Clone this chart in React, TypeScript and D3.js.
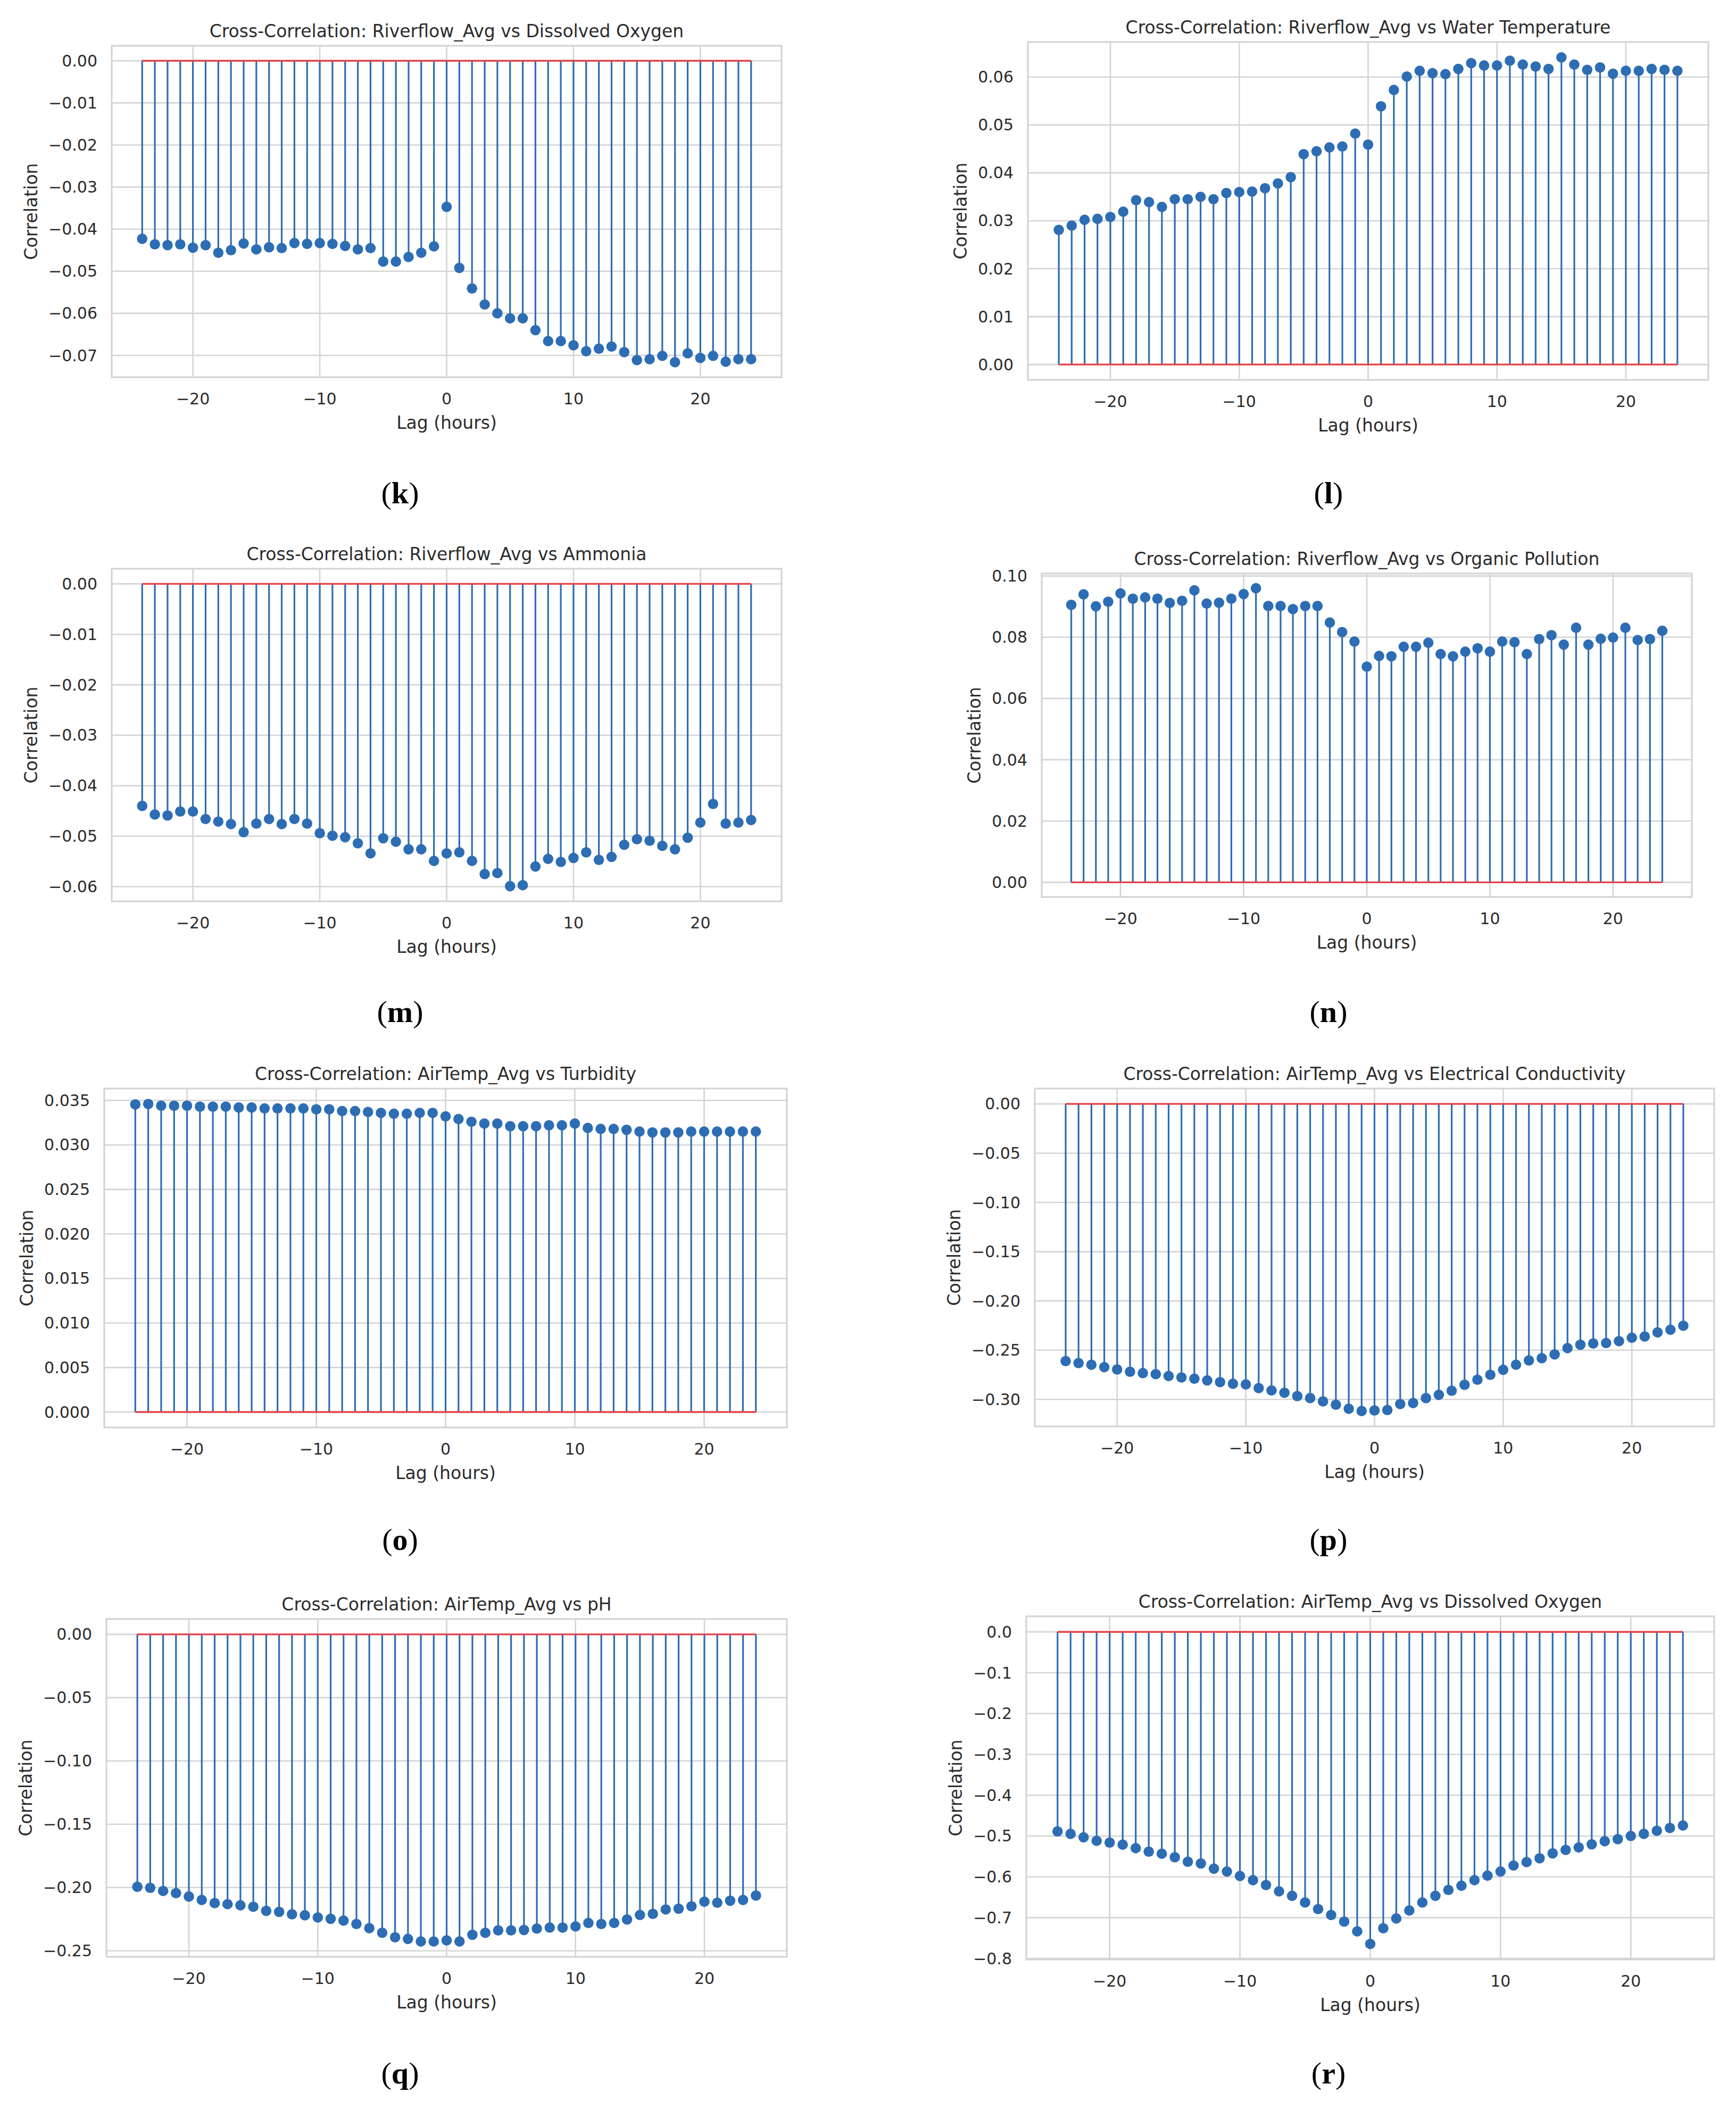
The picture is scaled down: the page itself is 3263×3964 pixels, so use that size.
import React from "react";
import * as d3 from "d3";

// lag axis (hours)
const lags = [
  -24, -23, -22, -21, -20, -19, -18, -17, -16, -15, -14, -13, -12, -11, -10, -9, -8, -7, -6, -5, -4, -3, -2, -1,
  0, 1, 2, 3, 4, 5, 6, 7, 8, 9, 10, 11, 12, 13, 14, 15, 16, 17, 18, 19, 20, 21, 22, 23, 24,
];
const xTicks = [-20, -10, 0, 10, 20];

// correlation values, lag -24 .. 24
const riverflowDO = [
  -0.0423, -0.0436, -0.0438, -0.0436, -0.0444, -0.0438, -0.0456, -0.045, -0.0434, -0.0448, -0.0443, -0.0445,
  -0.0433, -0.0435, -0.0433, -0.0435, -0.044, -0.0448, -0.0445, -0.0477, -0.0477, -0.0466, -0.0456, -0.0441,
  -0.0347, -0.0492, -0.0541, -0.0579, -0.06, -0.0612, -0.0612, -0.064, -0.0666, -0.0666, -0.0676, -0.069,
  -0.0684, -0.0679, -0.0692, -0.0711, -0.0709, -0.0701, -0.0716, -0.0695, -0.0706, -0.0701, -0.0715, -0.0709,
  -0.0709,
];
const riverflowWaterTemp = [
  0.0281, 0.029, 0.0302, 0.0304, 0.0308, 0.0319, 0.0343, 0.0339, 0.0329, 0.0345, 0.0345, 0.035, 0.0345, 0.0358,
  0.036, 0.0361, 0.0368, 0.0378, 0.0391, 0.0439, 0.0445, 0.0453, 0.0455, 0.0482, 0.0459, 0.0539, 0.0573, 0.0601,
  0.0613, 0.0608, 0.0606, 0.0617, 0.0629, 0.0624, 0.0624, 0.0634, 0.0626, 0.0622, 0.0617, 0.0641, 0.0626,
  0.0615, 0.062, 0.0607, 0.0613, 0.0613, 0.0617, 0.0615, 0.0613,
];
const riverflowAmmonia = [
  -0.044, -0.0457, -0.0459, -0.0451, -0.0451, -0.0466, -0.0471, -0.0476, -0.0492, -0.0475, -0.0466, -0.0476,
  -0.0466, -0.0475, -0.0494, -0.0499, -0.0502, -0.0514, -0.0534, -0.0504, -0.0511, -0.0526, -0.0526, -0.0549,
  -0.0534, -0.0532, -0.0549, -0.0575, -0.0573, -0.0599, -0.0597, -0.056, -0.0545, -0.0551, -0.0543, -0.0532,
  -0.0547, -0.0541, -0.0517, -0.0506, -0.0509, -0.0519, -0.0526, -0.0503, -0.0473, -0.0436, -0.0475, -0.0473,
  -0.0468,
];
const riverflowOrganic = [
  0.0906, 0.094, 0.0901, 0.0916, 0.0943, 0.0926, 0.093, 0.0926, 0.0912, 0.0919, 0.0953, 0.091, 0.0913, 0.0926,
  0.0941, 0.096, 0.0902, 0.0902, 0.0892, 0.0902, 0.0902, 0.0848, 0.0817, 0.0786, 0.0704, 0.0739, 0.0738, 0.0769,
  0.0769, 0.0782, 0.0745, 0.0738, 0.0753, 0.0764, 0.0753, 0.0786, 0.0784, 0.0745, 0.0794, 0.0807, 0.0776,
  0.0831, 0.0776, 0.0795, 0.0799, 0.0831, 0.0791, 0.0794, 0.0821,
];
const airTempTurbidity = [
  0.03455, 0.0346, 0.0344, 0.0344, 0.0344, 0.0343, 0.0343, 0.0343, 0.0342, 0.0342, 0.0341, 0.0341, 0.0341,
  0.0341, 0.034, 0.034, 0.0338, 0.0338, 0.0337, 0.0336, 0.0335, 0.0335, 0.0336, 0.0336, 0.0332, 0.0329, 0.0326,
  0.0324, 0.0324, 0.0321, 0.0321, 0.0321, 0.0322, 0.0322, 0.0324, 0.0319, 0.0318, 0.0318, 0.0317, 0.0315,
  0.0314, 0.0314, 0.0314, 0.0315, 0.0315, 0.0315, 0.0315, 0.0315, 0.0315,
];
const airTempEC = [
  -0.2611, -0.2631, -0.2648, -0.2672, -0.2696, -0.2719, -0.2733, -0.2743, -0.2763, -0.2777, -0.279, -0.2807,
  -0.2824, -0.2841, -0.2848, -0.2885, -0.2909, -0.2932, -0.2966, -0.2986, -0.302, -0.3054, -0.3095, -0.3118,
  -0.3112, -0.3108, -0.3047, -0.3037, -0.2986, -0.2953, -0.2912, -0.2851, -0.28, -0.275, -0.2699, -0.2648,
  -0.2604, -0.2581, -0.2543, -0.2479, -0.2445, -0.2432, -0.2428, -0.2408, -0.2374, -0.2361, -0.232, -0.2293,
  -0.2252,
];
const airTempPH = [
  -0.1994, -0.2002, -0.2027, -0.2044, -0.2071, -0.2098, -0.2123, -0.2131, -0.214, -0.2151, -0.2184, -0.2192,
  -0.2211, -0.2219, -0.2236, -0.2247, -0.2261, -0.2288, -0.2321, -0.2357, -0.2393, -0.2406, -0.2426, -0.2426,
  -0.2417, -0.2426, -0.2373, -0.2357, -0.2338, -0.2338, -0.2335, -0.2324, -0.2316, -0.2316, -0.2307, -0.228,
  -0.2288, -0.228, -0.2252, -0.2217, -0.2208, -0.2173, -0.2167, -0.2148, -0.2112, -0.212, -0.2104, -0.2098,
  -0.2063,
];
const airTempDO = [
  -0.4887, -0.4947, -0.5032, -0.5117, -0.516, -0.5211, -0.5296, -0.5382, -0.5433, -0.5518, -0.5629, -0.5672,
  -0.58, -0.5868, -0.5979, -0.6081, -0.62, -0.6354, -0.6465, -0.6627, -0.6789, -0.6934, -0.7096, -0.7335,
  -0.7642, -0.7258, -0.7019, -0.6823, -0.6627, -0.6465, -0.632, -0.6217, -0.6081, -0.597, -0.5868, -0.5723,
  -0.5638, -0.5544, -0.5424, -0.5339, -0.5279, -0.5203, -0.5126, -0.5075, -0.4998, -0.4947, -0.487, -0.4802,
  -0.4742,
];

// y tick values per chart
const ticksK = [0, -0.01, -0.02, -0.03, -0.04, -0.05, -0.06, -0.07];
const ticksL = [0, 0.01, 0.02, 0.03, 0.04, 0.05, 0.06];
const ticksM = [0, -0.01, -0.02, -0.03, -0.04, -0.05, -0.06];
const ticksN = [0, 0.02, 0.04, 0.06, 0.08, 0.1];
const ticksO = [0, 0.005, 0.01, 0.015, 0.02, 0.025, 0.03, 0.035];
const ticksP = [0, -0.05, -0.1, -0.15, -0.2, -0.25, -0.3];
const ticksQ = [0, -0.05, -0.1, -0.15, -0.2, -0.25];
const ticksR = [0, -0.1, -0.2, -0.3, -0.4, -0.5, -0.6, -0.7, -0.8];

const titles = [
  "Cross-Correlation: Riverflow_Avg vs Dissolved Oxygen",
  "Cross-Correlation: Riverflow_Avg vs Water Temperature",
  "Cross-Correlation: Riverflow_Avg vs Ammonia",
  "Cross-Correlation: Riverflow_Avg vs Organic Pollution",
  "Cross-Correlation: AirTemp_Avg vs Turbidity",
  "Cross-Correlation: AirTemp_Avg vs Electrical Conductivity",
  "Cross-Correlation: AirTemp_Avg vs pH",
  "Cross-Correlation: AirTemp_Avg vs Dissolved Oxygen",
];
const letters = ["k", "l", "m", "n", "o", "p", "q", "r"];

const W = 3263;
const H = 3964;
const FONT = "'DejaVu Sans', sans-serif";
const TEXT = "#2b2b2b";
const GRID = "#d4d4d4";
const BLUE = "#2d6db4";
const RED = "#e2434b";
const TICK_SIZE = 30;
const LABEL_SIZE = 33;

const panels = [
  { values: riverflowDO, ticks: ticksK, digits: 2, box: [210, 1469, 86, 709], cap: [752, 931] },
  { values: riverflowWaterTemp, ticks: ticksL, digits: 2, box: [1932, 3211, 79, 714], cap: [2497, 931] },
  { values: riverflowAmmonia, ticks: ticksM, digits: 2, box: [210, 1469, 1069, 1694], cap: [752, 1906] },
  { values: riverflowOrganic, ticks: ticksN, digits: 2, box: [1958, 3180, 1078, 1686], cap: [2497, 1906] },
  { values: airTempTurbidity, ticks: ticksO, digits: 3, box: [196, 1479, 2046, 2683], cap: [752, 2898] },
  { values: airTempEC, ticks: ticksP, digits: 2, box: [1945, 3222, 2046, 2681], cap: [2497, 2898] },
  { values: airTempPH, ticks: ticksQ, digits: 2, box: [200, 1479, 3043, 3678], cap: [752, 3901] },
  { values: airTempDO, ticks: ticksR, digits: 1, box: [1929, 3222, 3038, 3683], cap: [2497, 3901] },
];

// rough DejaVu Sans advance widths for tick strings
const labelWidth = (s: string, size: number) =>
  d3.sum(s.split(""), (c) => (c === "." ? 0.318 : c === "\u2212" ? 0.838 : 0.636)) * size;

function Panel({ p, title, letter }: { p: (typeof panels)[number]; title: string; letter: string }) {
  const [x0, x1, y0, y1] = p.box;
  const [lagMin, lagMax] = d3.extent(lags) as [number, number];
  const xPad = (lagMax - lagMin) * 0.05;
  const x = d3.scaleLinear().domain([lagMin - xPad, lagMax + xPad]).range([x0, x1]);

  const lo = Math.min(0, d3.min(p.values)!);
  const hi = Math.max(0, d3.max(p.values)!);
  const yPad = (hi - lo) * 0.05;
  const y = d3.scaleLinear().domain([lo - yPad, hi + yPad]).range([y1, y0]);

  const fmt = d3.format(`.${p.digits}f`);
  const xfmt = d3.format("d");
  const tickLabels = p.ticks.map((t) => fmt(t));
  const maxW = d3.max(tickLabels, (s) => labelWidth(s, TICK_SIZE))!;
  const yLabelX = x0 - 27 - maxW - 33;
  const cx = (x0 + x1) / 2;
  const cy = (y0 + y1) / 2;

  return (
    <g>
      <rect x={x0} y={y0} width={x1 - x0} height={y1 - y0} fill="#fff" />
      {/* grid */}
      {p.ticks.map((t, i) => (
        <line key={"gy" + i} x1={x0} x2={x1} y1={y(t)} y2={y(t)} stroke={GRID} strokeWidth={2.6} />
      ))}
      {xTicks.map((t) => (
        <line key={"gx" + t} x1={x(t)} x2={x(t)} y1={y0} y2={y1} stroke={GRID} strokeWidth={2.6} />
      ))}
      <rect x={x0} y={y0} width={x1 - x0} height={y1 - y0} fill="none" stroke={GRID} strokeWidth={3.2} />

      {/* stems */}
      {p.values.map((v, i) => (
        <line key={"s" + i} x1={x(lags[i])} x2={x(lags[i])} y1={y(0)} y2={y(v)} stroke={BLUE} strokeWidth={3.2} />
      ))}
      {p.values.map((v, i) => (
        <circle key={"m" + i} cx={x(lags[i])} cy={y(v)} r={9.8} fill={BLUE} />
      ))}
      <line x1={x(lagMin)} x2={x(lagMax)} y1={y(0)} y2={y(0)} stroke={RED} strokeWidth={3.4} />

      {/* y ticks */}
      {p.ticks.map((t, i) => (
        <text
          key={"ty" + i}
          x={x0 - 27}
          y={y(t)}
          textAnchor="end"
          dominantBaseline="central"
          fontFamily={FONT}
          fontSize={TICK_SIZE}
          fill={TEXT}
        >
          {tickLabels[i]}
        </text>
      ))}
      {/* x ticks */}
      {xTicks.map((t) => (
        <text key={"tx" + t} x={x(t)} y={y1 + 51} textAnchor="middle" fontFamily={FONT} fontSize={TICK_SIZE} fill={TEXT}>
          {xfmt(t)}
        </text>
      ))}

      <text x={cx} y={y0 - 16} textAnchor="middle" fontFamily={FONT} fontSize={LABEL_SIZE} fill={TEXT}>
        {title}
      </text>
      <text x={cx} y={y1 + 97} textAnchor="middle" fontFamily={FONT} fontSize={LABEL_SIZE} fill={TEXT}>
        Lag (hours)
      </text>
      <text
        transform={`translate(${yLabelX},${cy}) rotate(-90)`}
        textAnchor="middle"
        dominantBaseline="central"
        fontFamily={FONT}
        fontSize={LABEL_SIZE}
        fill={TEXT}
      >
        Correlation
      </text>

      <text
        x={p.cap[0]}
        y={p.cap[1] + 15}
        textAnchor="middle"
        fontFamily="'Liberation Serif', 'Times New Roman', serif"
        fontSize={58}
        fill="#000"
      >
        (<tspan fontWeight="bold">{letter}</tspan>)
      </text>
    </g>
  );
}

export default function App() {
  return (
    <svg
      width={W}
      height={H}
      viewBox={`0 0 ${W} ${H}`}
      style={{ position: "absolute", left: 0, top: 0, background: "#fff" }}
    >
      <rect width={W} height={H} fill="#fff" />
      {panels.map((p, i) => (
        <Panel key={i} p={p} title={titles[i]} letter={letters[i]} />
      ))}
    </svg>
  );
}
